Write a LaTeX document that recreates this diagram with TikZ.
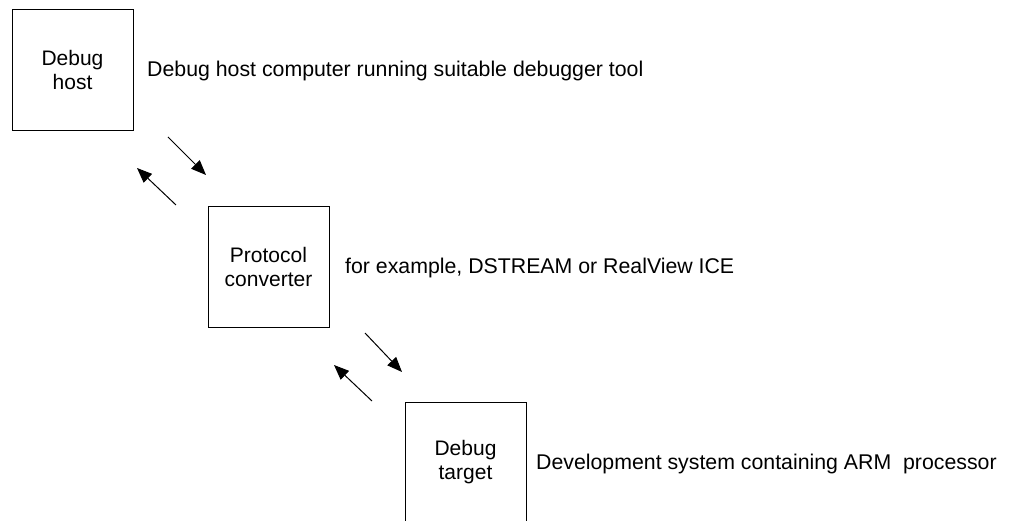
\documentclass[tikz,border=0pt]{standalone}
\usepackage{fontspec}
\setmainfont{Liberation Sans}
\usetikzlibrary{arrows.meta}

\begin{document}
\begin{tikzpicture}[x=1pt,y=-1pt,>={Triangle[length=15pt,width=12pt]},
        unit/.style={draw,line width=0.8pt,minimum size=121pt,inner sep=0pt,
          align=center,font=\fontsize{21}{24}\selectfont},
        note/.style={anchor=base west,inner sep=0pt,font=\fontsize{21.3}{24}\selectfont},
        link/.style={->,line width=1pt}]

        \useasboundingbox (0,0) rectangle (1013,521);

        \node[unit] (host)   at (72.5,69.5)   {Debug\\host};
        \node[unit] (conv)   at (268.5,266.5) {Protocol\\converter};
        \node[unit] (target) at (465.5,462.5) {Debug\\target};

        \node[note] (hostnote)   at (147,77)   {Debug host computer running suitable debugger tool};
        \node[note] (convnote)   at (345,274)  {for example, DSTREAM or RealView ICE};
        \node[note] (targetnote) at (536,470)  {Development system containing ARM\ \ processor};

        % arrow ends
        \coordinate (h1) at (168,137);
        \coordinate (c1) at (206,175);
        \coordinate (c2) at (176,205);
        \coordinate (h2) at (137,168);
        \coordinate (c3) at (365,333);
        \coordinate (t1) at (402,372);
        \coordinate (t2) at (372,401);
        \coordinate (c4) at (334,365);

        \draw[link] (h1) -- (c1);
        \draw[link] (c2) -- (h2);
        \draw[link] (c3) -- (t1);
        \draw[link] (t2) -- (c4);

\end{tikzpicture}
\end{document}
